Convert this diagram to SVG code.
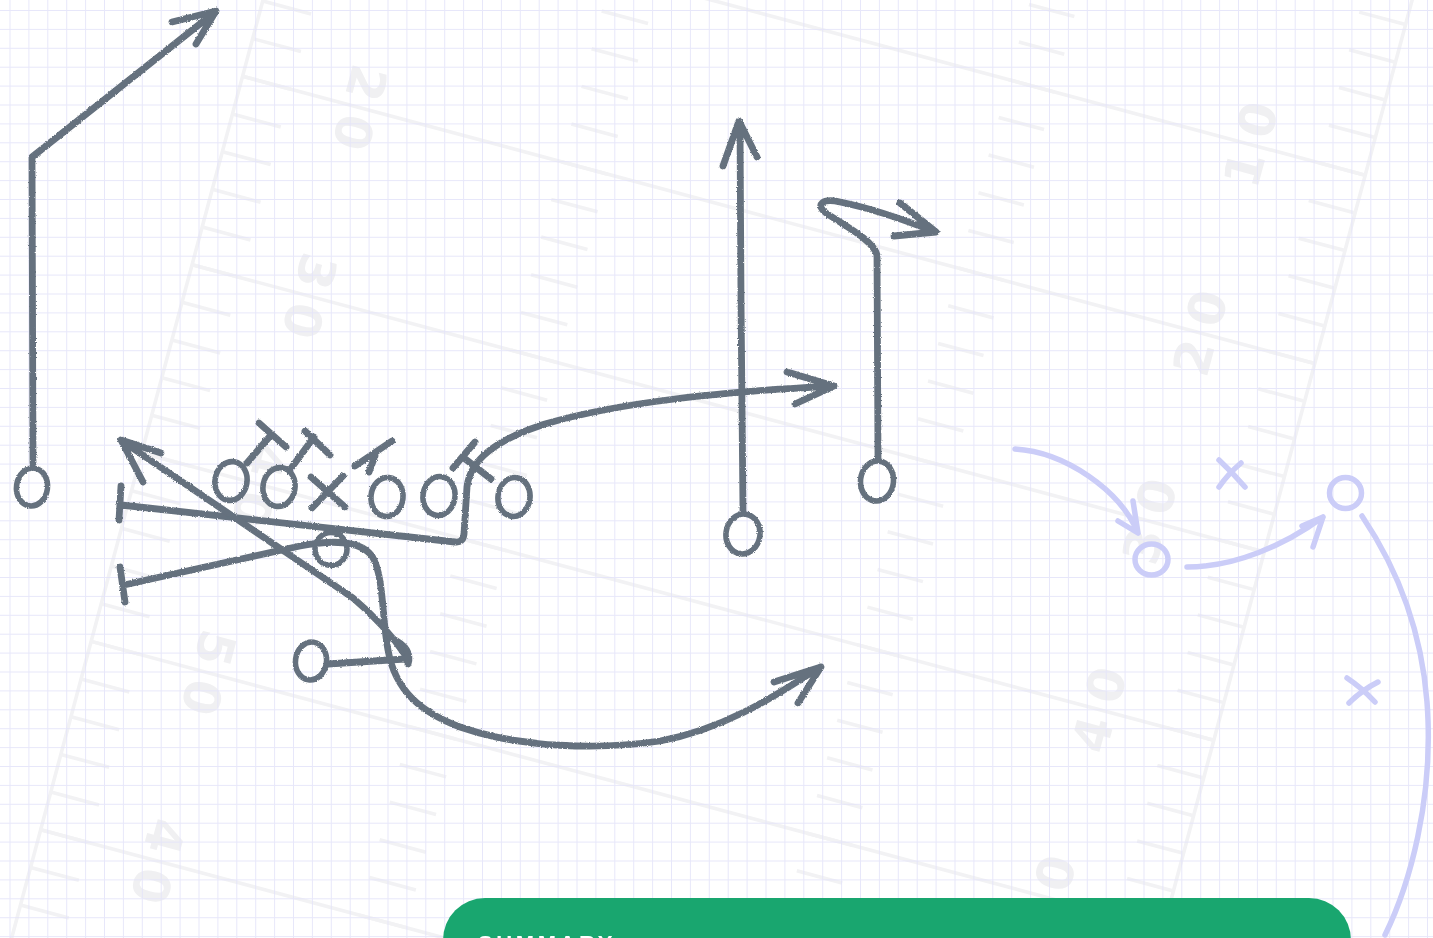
<svg xmlns="http://www.w3.org/2000/svg" xmlns:xlink="http://www.w3.org/1999/xlink" width="1433" height="938" viewBox="0 0 1433 938">
<style>
.fl{fill:none;stroke:#f2f2f4;stroke-width:3.6}
.num{fill:#f0f0f2;font-family:"DejaVu Sans",sans-serif;font-weight:bold;font-size:50px;text-anchor:middle}
.ink{fill:none;stroke:#65717e;stroke-width:6.8;stroke-linecap:round;stroke-linejoin:round}
.o{stroke-width:5.6}
.lav{fill:none;stroke:#cbcdf8;stroke-width:5.5;stroke-linecap:round;stroke-linejoin:round}
.sum{fill:#ffffff;font-family:"Liberation Sans",Arial,sans-serif;font-weight:bold;font-size:22px;letter-spacing:3.6px}
</style>
<defs>
<pattern id="grid" x="9.5" y="10" width="18.9" height="18.9" patternUnits="userSpaceOnUse">
<path d="M0,0.5H18.9M0.5,0V18.9" fill="none" stroke="#e3e3f9" stroke-width="1"/>
</pattern>
<path id="tk" class="fl" d="M0,0h50M330,0h48M741,0h47M1062,0h47"/>
<filter id="rough" x="-5%" y="-5%" width="110%" height="110%">
<feTurbulence type="fractalNoise" baseFrequency="0.8" numOctaves="2" seed="4" result="n"/>
<feDisplacementMap in="SourceGraphic" in2="n" scale="2.6" xChannelSelector="R" yChannelSelector="G"/>
</filter>
</defs>
<rect width="1433" height="938" fill="#ffffff"/>
<g id="field" transform="translate(263,0) rotate(15)">
<path class="fl" d="M0,-400V1100M1110,-400V1100"/>
<path class="fl" d="M0,-311H1110M0,-116H1110M0,79H1110M0,274H1110M0,469H1110M0,664H1110M0,859H1110M0,1054H1110"/>
<use href="#tk" y="-311"/><use href="#tk" y="-272"/><use href="#tk" y="-233"/><use href="#tk" y="-194"/><use href="#tk" y="-155"/>
<use href="#tk" y="-116"/><use href="#tk" y="-77"/><use href="#tk" y="-38"/><use href="#tk" y="1"/><use href="#tk" y="40"/>
<use href="#tk" y="79"/><use href="#tk" y="118"/><use href="#tk" y="157"/><use href="#tk" y="196"/><use href="#tk" y="235"/>
<use href="#tk" y="274"/><use href="#tk" y="313"/><use href="#tk" y="352"/><use href="#tk" y="391"/><use href="#tk" y="430"/>
<use href="#tk" y="469"/><use href="#tk" y="508"/><use href="#tk" y="547"/><use href="#tk" y="586"/><use href="#tk" y="625"/>
<use href="#tk" y="664"/><use href="#tk" y="703"/><use href="#tk" y="742"/><use href="#tk" y="781"/><use href="#tk" y="820"/>
<use href="#tk" y="859"/><use href="#tk" y="898"/><use href="#tk" y="937"/><use href="#tk" y="976"/><use href="#tk" y="1015"/>
<g class="num">
<text transform="translate(122,53.5) rotate(90)" dy="0.365em">2</text>
<text transform="translate(122,104.5) rotate(90)" dy="0.365em">0</text>
<text transform="translate(122,248.5) rotate(90)" dy="0.365em">3</text>
<text transform="translate(122,299.5) rotate(90)" dy="0.365em">0</text>
<text transform="translate(122,443.5) rotate(90)" dy="0.365em">4</text>
<text transform="translate(122,494.5) rotate(90)" dy="0.365em">0</text>
<text transform="translate(122,638.5) rotate(90)" dy="0.365em">5</text>
<text transform="translate(122,689.5) rotate(90)" dy="0.365em">0</text>
<text transform="translate(122,833.5) rotate(90)" dy="0.365em">4</text>
<text transform="translate(122,884.5) rotate(90)" dy="0.365em">0</text>
<text transform="translate(991,-90.5) rotate(-90)" dy="0.365em">1</text>
<text transform="translate(991,-141.5) rotate(-90)" dy="0.365em">0</text>
<text transform="translate(991,104.5) rotate(-90)" dy="0.365em">2</text>
<text transform="translate(991,53.5) rotate(-90)" dy="0.365em">0</text>
<text transform="translate(991,299.5) rotate(-90)" dy="0.365em">3</text>
<text transform="translate(991,248.5) rotate(-90)" dy="0.365em">0</text>
<text transform="translate(991,494.5) rotate(-90)" dy="0.365em">4</text>
<text transform="translate(991,443.5) rotate(-90)" dy="0.365em">0</text>
<text transform="translate(991,689.5) rotate(-90)" dy="0.365em">5</text>
<text transform="translate(991,638.5) rotate(-90)" dy="0.365em">0</text>
</g>
</g>
<rect width="1433" height="938" fill="url(#grid)" opacity="0.85"/>
<g id="play" filter="url(#rough)">
<g id="connectors">
<path id="route-left-wr" class="ink" d="M33,463 L32,157 L215,12 M172,22 L216,11 L196,44"/>
<path id="block-1" class="ink" d="M247,463 L271,435 M259,423 L286,447"/>
<path id="block-2" class="ink" d="M292,467 L314,437 M305,431 L330,455"/>
<path id="block-3" class="ink" d="M355,466 L392,441 M369,472 L375,456"/>
<path id="block-4" class="ink" d="M453,468 L475,442 M464,458 L491,479"/>
<path id="route-c" class="ink" d="M121,486 L119,520 M121,505 L455,542 Q463,543 464,534 L467,487 C470,460 495,440 545,424 C620,402 720,392 833,386 M787,372 L834,386 L795,404"/>
<path id="route-d" class="ink" d="M120,567 L125,602 M124,585 L300,546 C330,540 360,540 372,556 C384,575 382,620 388,650 C395,690 420,712 460,727 C520,748 600,750 660,741 C720,730 770,700 820,667 M774,682 L821,667 L798,703"/>
<path id="route-e" class="ink" d="M406,656 Q385,625 353,598 L122,441 M161,453 L121,440 L143,482"/>
<path id="route-rb" class="ink" d="M328,664 L405,659 M391,638 Q413,648 408,664"/>
<path id="route-f" class="ink" d="M743,512 L741,300 L740,123 M723,166 L739,121 L757,157"/>
<path id="route-g" class="ink" d="M878,458 L877,255 C873,240 845,226 826,213 C815,205 822,198 840,202 C870,208 905,220 935,232 M900,203 L936,232 L894,236"/>
</g>
<g id="wr-left"><ellipse class="ink o" cx="32" cy="487" rx="15.5" ry="19" transform="rotate(8 32 487)"/></g>
<g id="lt"><ellipse class="ink o" cx="231" cy="481" rx="16" ry="19.5" transform="rotate(10 231 481)"/></g>
<g id="lg"><ellipse class="ink o" cx="279" cy="487" rx="16" ry="19.5" transform="rotate(10 279 487)"/></g>
<g id="center"><path class="ink" d="M311,477 L345,507 M343,476 L312,508"/></g>
<g id="rg"><ellipse class="ink o" cx="387" cy="497" rx="16" ry="19.5" transform="rotate(6 387 497)"/></g>
<g id="rt"><ellipse class="ink o" cx="439" cy="496" rx="16" ry="19.5" transform="rotate(8 439 496)"/></g>
<g id="te"><ellipse class="ink o" cx="514" cy="497" rx="16" ry="19.5" transform="rotate(8 514 497)"/></g>
<g id="qb"><ellipse class="ink o" cx="331" cy="549" rx="16" ry="16.5"/></g>
<g id="rb"><ellipse class="ink o" cx="311" cy="661" rx="15.5" ry="19" transform="rotate(8 311 661)"/></g>
<g id="wr-mid"><ellipse class="ink o" cx="743" cy="534" rx="17" ry="20" transform="rotate(8 743 534)"/></g>
<g id="wr-right"><ellipse class="ink o" cx="877" cy="481" rx="16.5" ry="20" transform="rotate(6 877 481)"/></g>
</g>
<g id="ghost">
<g id="ghost-connectors">
<path class="lav" d="M1015,449 C1065,452 1120,490 1138,533 M1118,521 L1138,533 L1133,501"/>
<path class="lav" d="M1187,567 C1235,567 1285,545 1323,517 M1302,526 L1323,517 L1313,547"/>
<path class="lav" d="M1362,516 C1395,565 1425,630 1428,720 C1431,800 1412,880 1385,935"/>
</g>
<g id="ghost-o1"><ellipse class="lav" cx="1151.5" cy="559.5" rx="16.5" ry="15.5"/></g>
<g id="ghost-o2"><ellipse class="lav" cx="1345.5" cy="493" rx="16" ry="15.5"/></g>
<g id="ghost-x1"><path class="lav" d="M1219,460 Q1232,472 1245,487 M1241,463 Q1228,474 1219,487"/></g>
<g id="ghost-x2"><path class="lav" d="M1347,678 Q1362,688 1375,702 M1378,682 Q1362,690 1349,703"/></g>
</g>
<g id="summary">
<rect x="443" y="898" width="908" height="140" rx="42" fill="#19a66f"/>
<text class="sum" x="478" y="951">SUMMARY</text>
</g>
</svg>
